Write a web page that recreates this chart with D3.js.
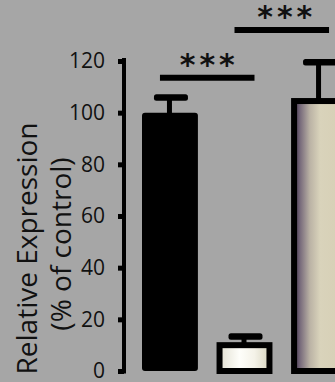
<!DOCTYPE html>
<html>
<head>
<meta charset="utf-8">
<script src="https://cdn.jsdelivr.net/npm/d3@7"></script>
<style>
  html, body { margin: 0; padding: 0; background: #a6a6a6; }
  svg { display: block; }
</style>
</head>
<body>
<div id="chart"></div>
<script>
// Group names, mean expression (% of control) and upper error values
const groups = ["Control", "Treated", "Rescue"];
const means = [100, 10, 104.5];
const errorTops = [106, 13.5, 119.6];
const yTicks = [0, 20, 40, 60, 80, 100, 120];
const yTitle = ["Relative Expression", "(% of control)"];
// Significance brackets between groups
const compareFrom = [0, 1];
const compareTo = [1, 2];
const compareLevel = [113.5, 132];
const compareLabel = ["***", "***"];

const W = 335, H = 382;
const svg = d3.select("#chart").append("svg")
  .attr("width", W).attr("height", H);

svg.append("rect").attr("width", W).attr("height", H).attr("fill", "#a6a6a6");

const defs = svg.append("defs");
const g2 = defs.append("linearGradient").attr("id", "fillCream")
  .attr("x1", "0%").attr("x2", "100%").attr("y1", "0%").attr("y2", "0%");
[["0%", "#e2e0d2"], ["40%", "#fefefa"], ["70%", "#f4f2e8"], ["100%", "#d8d5c0"]]
  .forEach(([o, c]) => g2.append("stop").attr("offset", o).attr("stop-color", c));
const g3 = defs.append("linearGradient").attr("id", "fillTube")
  .attr("x1", "0%").attr("x2", "100%").attr("y1", "0%").attr("y2", "0%");
[["0%", "#42324d"], ["12%", "#776a7b"], ["32%", "#bbb3a5"], ["52%", "#d9d3bb"], ["100%", "#d6cfb5"]]
  .forEach(([o, c]) => g3.append("stop").attr("offset", o).attr("stop-color", c));
const fills = ["#000000", "url(#fillCream)", "url(#fillTube)"];

const x = d3.scaleBand().domain(groups).range([142, 347]).paddingInner(0.25).paddingOuter(0);
const y = d3.scaleLinear().domain([0, 120]).range([371, 61]);
const bw = x.bandwidth();
const cx = i => x(groups[i]) + bw / 2;

// Y axis
const axisX = 124;
const yAxis = d3.axisLeft(y).tickValues(yTicks).tickSize(6).tickSizeOuter(0).tickPadding(13);
const ag = svg.append("g").attr("transform", `translate(${axisX},0)`).call(yAxis);
ag.select(".domain").remove();
ag.append("line").attr("x1", 0).attr("x2", 0)
  .attr("y1", y(120) - 3).attr("y2", y(0) + 2.5)
  .attr("stroke", "#000").attr("stroke-width", 4);
ag.selectAll(".tick line").attr("stroke", "#000").attr("stroke-width", 5);
ag.selectAll(".tick text")
  .attr("font-family", "'Open Sans', sans-serif").attr("font-size", 21)
  .attr("fill", "#111");

// Y axis title, two lines
const titleX = [37, 71];
const titleY = [248.5, 244];
yTitle.forEach((t, i) => {
  svg.append("text")
    .attr("transform", `translate(${titleX[i]},${titleY[i]}) rotate(-90)`)
    .attr("text-anchor", "middle")
    .attr("font-family", "'Open Sans', sans-serif").attr("font-size", 28)
    .attr("fill", "#111")
    .text(t);
});

// Bars
const sw = 6;
groups.forEach((gname, i) => {
  if (i === 0) {
    svg.append("rect")
      .attr("x", x(gname)).attr("width", bw)
      .attr("y", y(means[i])).attr("height", y(0) - y(means[i]))
      .attr("rx", 3).attr("fill", fills[i]);
  } else {
    svg.append("rect")
      .attr("x", x(gname) + sw / 2).attr("width", bw - sw)
      .attr("y", y(means[i])).attr("height", y(0) - y(means[i]))
      .attr("fill", fills[i]).attr("stroke", "#000").attr("stroke-width", sw);
  }
});

// Error bars
groups.forEach((gname, i) => {
  const c = cx(i) - 0.5;
  const barTop = i === 0 ? y(means[i]) : y(means[i]) - sw / 2;
  svg.append("line")
    .attr("x1", c).attr("x2", c)
    .attr("y1", barTop + 1).attr("y2", y(errorTops[i]))
    .attr("stroke", "#000").attr("stroke-width", 5);
  svg.append("rect")
    .attr("x", c - 15.5).attr("width", 34)
    .attr("y", y(errorTops[i]) - 3).attr("height", 6.5)
    .attr("rx", 2.5).attr("fill", "#000");
});

// Significance brackets
compareFrom.forEach((a, k) => {
  const b = compareTo[k];
  const ly = y(compareLevel[k]);
  const x1 = cx(a) - 10, x2 = cx(b) + 10;
  svg.append("line")
    .attr("x1", x1).attr("x2", x2).attr("y1", ly).attr("y2", ly)
    .attr("stroke", "#000").attr("stroke-width", 6);
  svg.append("text")
    .attr("x", (x1 + x2) / 2 + 2 + k * 3).attr("y", ly - 3)
    .attr("text-anchor", "middle")
    .attr("font-family", "'DejaVu Sans', sans-serif").attr("font-size", 30)
    .attr("font-weight", "bold")
    .attr("letter-spacing", 4)
    .attr("fill", "#111")
    .text(compareLabel[k]);
});
</script>
</body>
</html>
